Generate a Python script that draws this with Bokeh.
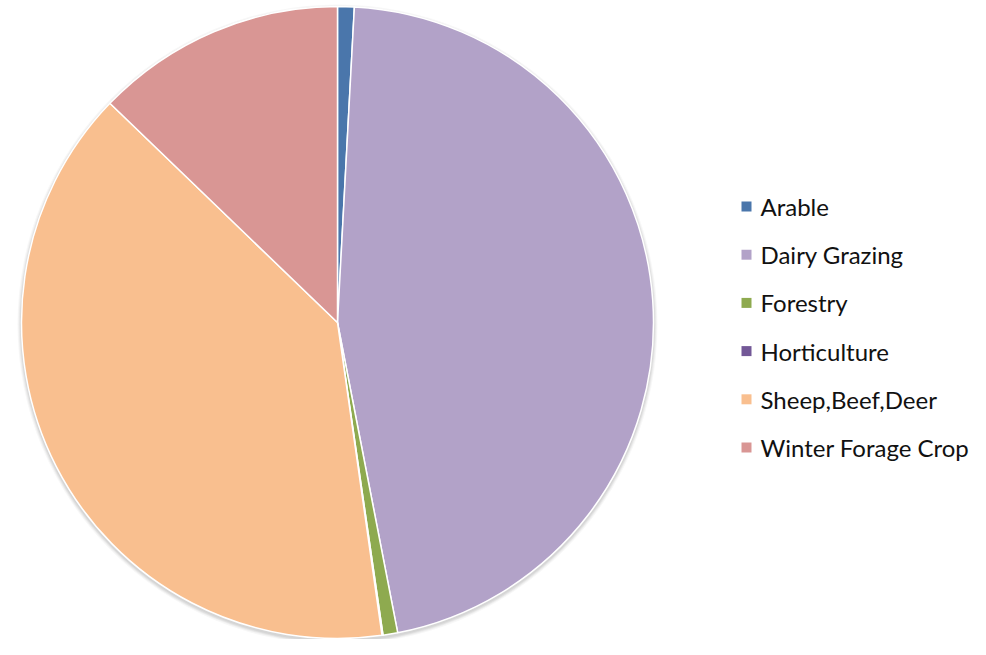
import math
from bokeh.plotting import figure
from bokeh.models import ColumnDataSource, Range1d
from bokeh.core.properties import value
from bokeh.embed import file_html
from bokeh.resources import INLINE

categories = ["Arable", "Dairy Grazing", "Forestry", "Horticulture", "Sheep,Beef,Deer", "Winter Forage Crop"]
shares = [0.85, 46.1, 0.75, 0.05, 39.45, 12.8]
colors = ["#4A76AB", "#B2A2C8", "#8EAA4F", "#735897", "#F9BF8F", "#D99694"]

W, H = 970, 639
p = figure(width=W, height=H, output_backend="svg", toolbar_location=None,
           x_range=Range1d(0, W), y_range=Range1d(0, H), min_border=0)
p.axis.visible = False
p.grid.visible = False
p.outline_line_color = None
p.background_fill_color = "white"

cx, cy, R = 337, 317, 316

# soft shadow
for i, a in enumerate([0.05, 0.05, 0.04, 0.03]):
    p.circle(x=[cx], y=[cy - 2], radius=R + 1 + i, radius_units="screen",
             fill_color="black", fill_alpha=a, line_color=None)

total = sum(shares)
starts, ends = [], []
c = 0.0
for s in shares:
    starts.append(math.pi / 2 - 2 * math.pi * c / total)
    c += s
    ends.append(math.pi / 2 - 2 * math.pi * c / total)

src = ColumnDataSource(dict(start=starts, end=ends, color=colors, cat=categories))
p.wedge(x=cx, y=cy, radius=R, radius_units="screen", start_angle="start", end_angle="end",
        direction="clock", fill_color="color", line_color="white", line_width=1.5, source=src)

# legend
ly0 = 433
step = 48.2
lx = [746] * len(categories)
ly = [ly0 - i * step for i in range(len(categories))]
lsrc = ColumnDataSource(dict(x=lx, y=ly, tx=[x + 14 for x in lx], color=colors, cat=categories))
p.scatter(x="x", y="y", marker="square", size=10, fill_color="color", line_color=None, source=lsrc)
p.text(x="tx", y="y", text="cat", text_font=value("Lato"), text_font_size="24px",
       text_baseline="middle", text_color="#111111", source=lsrc)

open("out.html", "w").write(file_html(p, INLINE))
